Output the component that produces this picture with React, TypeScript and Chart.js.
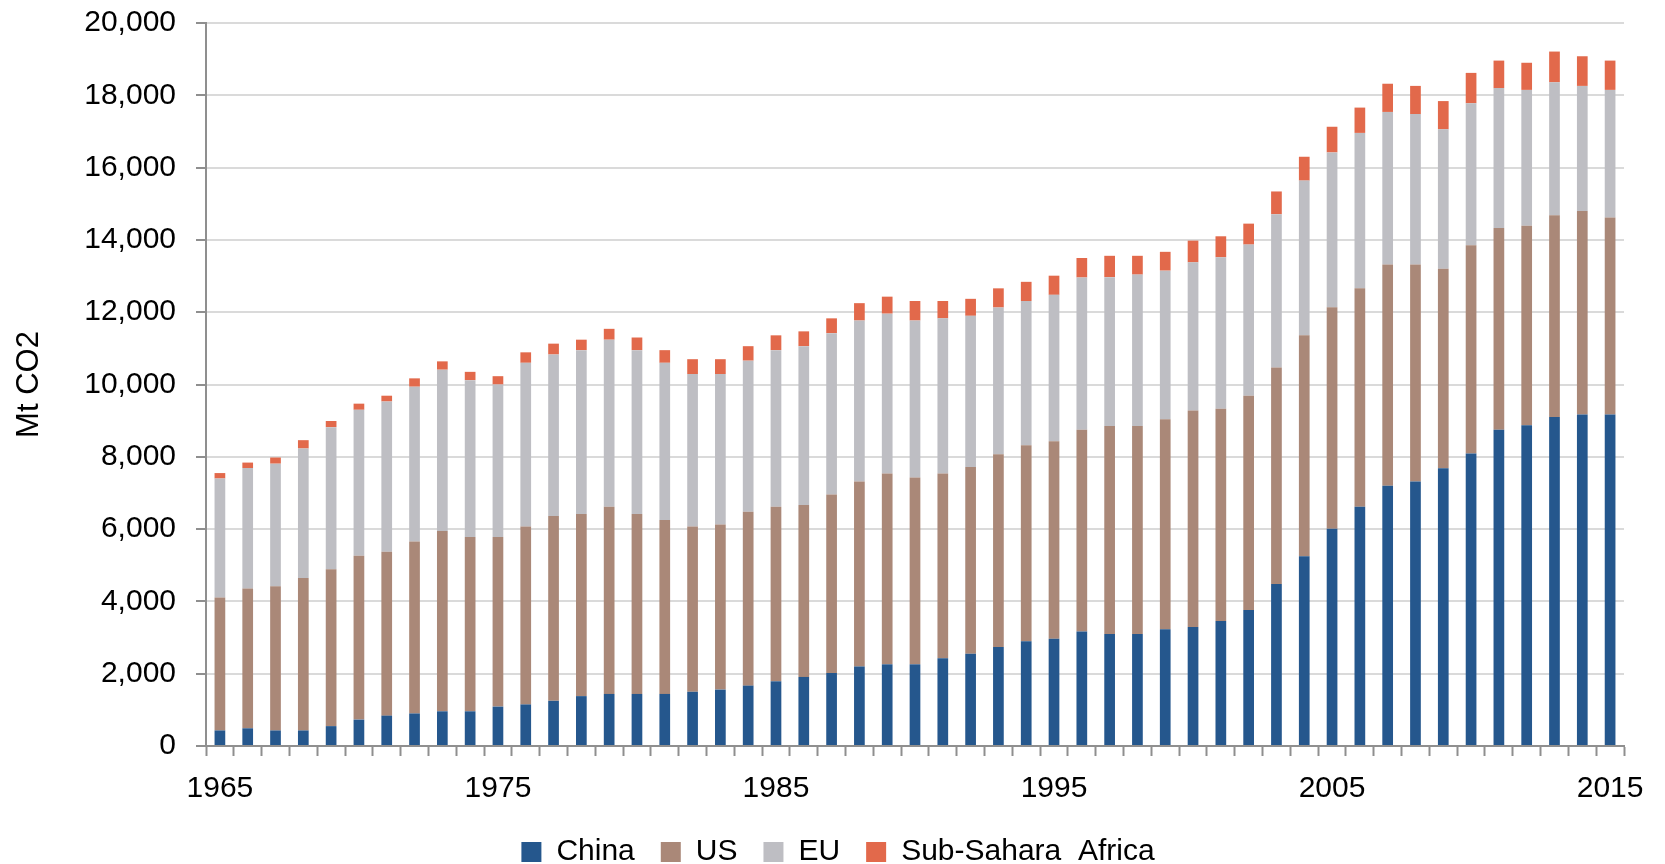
import React, { useEffect, useRef } from "react";
import { Chart, registerables } from "chart.js";

Chart.register(...registerables);

// Energy-related CO2 emissions by region, Mt CO2
const years = [
  1965, 1966, 1967, 1968, 1969, 1970, 1971, 1972, 1973, 1974,
  1975, 1976, 1977, 1978, 1979, 1980, 1981, 1982, 1983, 1984,
  1985, 1986, 1987, 1988, 1989, 1990, 1991, 1992, 1993, 1994,
  1995, 1996, 1997, 1998, 1999, 2000, 2001, 2002, 2003, 2004,
  2005, 2006, 2007, 2008, 2009, 2010, 2011, 2012, 2013, 2014, 2015,
];

const china = [
  430, 490, 430, 430, 550, 730, 840, 900, 960, 960,
  1090, 1150, 1250, 1380, 1440, 1440, 1440, 1500, 1560, 1670,
  1790, 1910, 2020, 2200, 2260, 2260, 2430, 2550, 2740, 2900,
  2970, 3170, 3100, 3100, 3230, 3290, 3460, 3760, 4480, 5250,
  6010, 6620, 7200, 7320, 7680, 8090, 8750, 8870, 9100, 9170, 9170,
];

const us = [
  3680, 3870, 3990, 4220, 4340, 4530, 4530, 4760, 4990, 4820,
  4690, 4920, 5110, 5040, 5180, 4980, 4810, 4570, 4570, 4810,
  4830, 4760, 4940, 5120, 5280, 5170, 5110, 5170, 5330, 5420,
  5460, 5580, 5750, 5750, 5810, 5990, 5870, 5930, 5990, 6110,
  6130, 6040, 6120, 6000, 5520, 5760, 5580, 5520, 5580, 5630, 5450,
];

const eu = [
  3290, 3330, 3390, 3580, 3930, 4040, 4160, 4280, 4460, 4340,
  4220, 4530, 4470, 4530, 4620, 4530, 4350, 4220, 4160, 4180,
  4330, 4390, 4460, 4450, 4420, 4340, 4290, 4180, 4060, 3990,
  4050, 4210, 4120, 4190, 4110, 4100, 4190, 4180, 4240, 4280,
  4280, 4300, 4220, 4160, 3860, 3930, 3870, 3760, 3680, 3460, 3530,
];

const subSaharaAfrica = [
  150, 150, 170, 230, 170, 170, 160, 230, 230, 230,
  230, 290, 300, 290, 300, 350, 350, 410, 410, 400,
  410, 410, 410, 480, 470, 540, 480, 470, 530, 530,
  530, 540, 590, 520, 520, 600, 580, 580, 630, 660,
  710, 700, 780, 780, 780, 840, 760, 750, 850, 820, 810,
];

const labeledYears = [1965, 1975, 1985, 1995, 2005, 2015];

const yTicks = { min: 0, max: 20000, step: 2000 };

const AXIS_GREY = "#8f8f8f";
const GRID_GREY = "#dadada";
const FONT = "'Liberation Sans', Arial, sans-serif";

// nudges the bottom legend row so it sits under the middle of the bars
const legendOffset = {
  id: "legendOffset",
  afterLayout(chart: any) {
    const lg = chart.legend;
    if (lg) {
      lg.left += 26;
      lg.right += 26;
    }
  },
};

export default function App() {
  const canvasRef = useRef<HTMLCanvasElement | null>(null);

  useEffect(() => {
    document.body.style.margin = "0";
    const canvas = canvasRef.current;
    if (!canvas) return;

    const chart = new Chart(canvas, {
      type: "bar",
      data: {
        labels: years,
        datasets: [
          { label: "China", data: china, backgroundColor: "#25578d" },
          { label: "US", data: us, backgroundColor: "#aa8878" },
          { label: "EU", data: eu, backgroundColor: "#bebec3" },
          { label: "Sub-Sahara  Africa", data: subSaharaAfrica, backgroundColor: "#e2694b" },
        ],
      },
      plugins: [legendOffset],
      options: {
        responsive: false,
        animation: false,
        datasets: {
          bar: {
            barPercentage: 0.385,
            categoryPercentage: 1,
            borderWidth: 0,
          },
        },
        layout: {
          padding: { left: 0, right: 41, top: 23, bottom: -13 },
        },
        plugins: {
          tooltip: { enabled: false },
          legend: {
            position: "bottom",
            labels: {
              boxWidth: 20,
              boxHeight: 20,
              padding: 26,
              color: "#000",
              font: { family: FONT, size: 30 },
            },
          },
        },
        scales: {
          x: {
            stacked: true,
            afterFit: (scale: any) => {
              scale.height = 65;
            },
            border: { display: true, color: AXIS_GREY, width: 2 },
            grid: {
              display: true,
              offset: true,
              drawOnChartArea: false,
              drawTicks: true,
              tickLength: 10,
              tickColor: AXIS_GREY,
              tickWidth: 2,
            },
            ticks: {
              autoSkip: false,
              maxRotation: 0,
              minRotation: 0,
              padding: 15,
              color: "#000",
              font: { family: FONT, size: 30 },
              callback: (_v: any, i: number) =>
                labeledYears.includes(years[i]) ? String(years[i]) : "",
            },
          },
          y: {
            stacked: true,
            min: yTicks.min,
            max: yTicks.max,
            afterFit: (scale: any) => {
              scale.width = 206;
              // keep the label half-heights from pushing the plot edges inward
              scale.paddingTop = 17;
              scale.paddingBottom = 17;
            },
            border: { display: true, color: AXIS_GREY, width: 2 },
            grid: {
              color: GRID_GREY,
              lineWidth: 2,
              drawTicks: true,
              tickLength: 10,
              tickColor: AXIS_GREY,
              tickWidth: 2,
            },
            ticks: {
              stepSize: yTicks.step,
              padding: 20,
              color: "#000",
              font: { family: FONT, size: 30 },
              callback: (v: any) => Number(v).toLocaleString("en-US"),
            },
            title: {
              display: true,
              text: "Mt CO2",
              color: "#000",
              padding: { top: 11, bottom: 0 },
              font: { family: FONT, size: 31 },
            },
          },
        },
      },
    });

    return () => chart.destroy();
  }, []);

  return (
    <div style={{ width: 1665, height: 864, background: "#fff" }}>
      <canvas ref={canvasRef} width={1665} height={864} />
    </div>
  );
}
